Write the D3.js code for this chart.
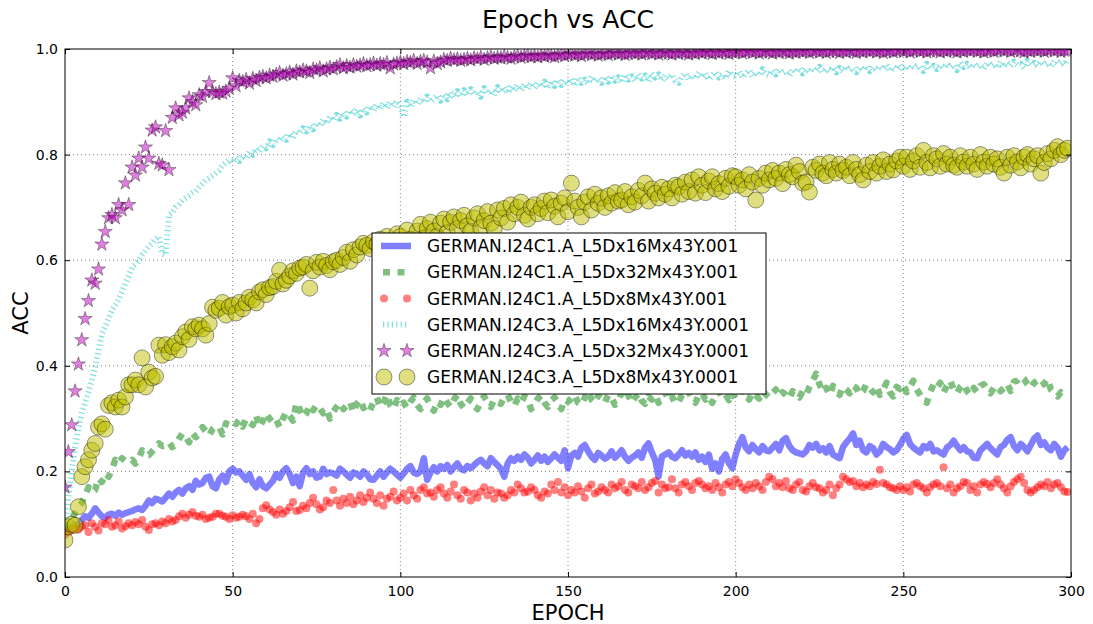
<!DOCTYPE html>
<html>
<head>
<meta charset="utf-8">
<script src="https://cdn.jsdelivr.net/npm/d3@7"></script>
<style>
  body { margin: 0; background: #fff; }
  text { font-family: "DejaVu Sans", sans-serif; fill: #000; }
</style>
</head>
<body>
<svg id="chart" width="1093" height="624"></svg>
<script>
// ---- data: accuracy per epoch (index = epoch) ----
const seriesNames = [
  "GERMAN.I24C1.A_L5Dx16Mx43Y.001",
  "GERMAN.I24C1.A_L5Dx32Mx43Y.001",
  "GERMAN.I24C1.A_L5Dx8Mx43Y.001",
  "GERMAN.I24C3.A_L5Dx16Mx43Y.0001",
  "GERMAN.I24C3.A_L5Dx32Mx43Y.0001",
  "GERMAN.I24C3.A_L5Dx8Mx43Y.0001"
];

const acc16_001 = [
  .090,.092,.095,.098,.100,.108,.115,.112,.120,.130,
  .122,.115,.112,.118,.120,.116,.122,.118,.121,.123,
  .125,.128,.130,.127,.135,.145,.140,.148,.146,.143,
  .150,.158,.152,.160,.165,.158,.168,.172,.165,.182,
  .175,.178,.188,.190,.172,.168,.185,.192,.180,.200,
  .205,.198,.200,.192,.184,.195,.178,.170,.185,.172,
  .168,.175,.182,.195,.188,.200,.206,.195,.178,.190,
  .172,.198,.206,.195,.200,.188,.190,.205,.195,.198,
  .196,.192,.205,.200,.194,.188,.198,.195,.190,.200,
  .195,.185,.184,.192,.200,.190,.198,.205,.200,.194,
  .188,.196,.205,.210,.198,.195,.200,.225,.184,.198,
  .208,.200,.210,.205,.212,.200,.208,.215,.205,.202,
  .210,.206,.212,.218,.222,.215,.210,.225,.218,.212,
  .205,.190,.215,.225,.220,.228,.222,.232,.226,.215,
  .222,.230,.220,.228,.218,.225,.232,.226,.220,.240,
  .206,.230,.235,.228,.245,.250,.238,.228,.222,.235,
  .230,.224,.228,.238,.226,.232,.240,.228,.220,.226,
  .230,.236,.226,.245,.253,.236,.222,.190,.228,.232,
  .236,.228,.225,.232,.240,.230,.235,.228,.236,.222,
  .228,.218,.232,.205,.215,.200,.224,.232,.215,.206,
  .232,.252,.265,.245,.238,.250,.242,.236,.248,.240,
  .238,.245,.252,.240,.258,.263,.248,.240,.236,.234,
  .232,.238,.250,.245,.252,.240,.244,.236,.248,.232,
  .228,.225,.246,.255,.262,.272,.250,.258,.240,.236,
  .248,.244,.232,.238,.252,.246,.242,.236,.240,.250,
  .262,.269,.252,.245,.240,.236,.248,.244,.252,.238,
  .240,.236,.232,.245,.250,.258,.248,.240,.246,.238,
  .236,.226,.225,.240,.246,.252,.244,.238,.232,.246,
  .250,.260,.265,.248,.240,.252,.246,.238,.250,.262,
  .268,.250,.255,.245,.240,.252,.245,.228,.240,.246
];

const acc32_001 = [
  .090,.100,.110,.122,.133,.140,.155,.170,.160,.165,
  .187,.180,.196,.190,.203,.222,.215,.225,.220,.218,
  .222,.215,.225,.240,.232,.231,.238,.245,.253,.248,
  .250,.255,.246,.250,.262,.272,.266,.255,.272,.265,
  .270,.284,.276,.268,.280,.285,.284,.270,.291,.288,
  .295,.290,.297,.285,.300,.293,.288,.306,.284,.296,
  .310,.300,.292,.298,.284,.300,.313,.305,.296,.330,
  .318,.303,.310,.326,.316,.326,.320,.310,.318,.300,
  .313,.322,.330,.318,.325,.332,.312,.328,.336,.320,
  .325,.316,.332,.340,.322,.330,.345,.326,.318,.335,
  .325,.330,.320,.332,.340,.326,.318,.330,.338,.322,
  .315,.332,.326,.340,.330,.322,.336,.345,.328,.320,
  .330,.338,.325,.318,.334,.342,.330,.322,.336,.330,
  .328,.340,.345,.332,.324,.338,.330,.342,.335,.318,
  .326,.338,.344,.330,.322,.335,.340,.330,.318,.336,
  .332,.338,.345,.330,.326,.340,.352,.336,.330,.344,
  .338,.330,.345,.340,.326,.332,.350,.338,.344,.330,
  .340,.348,.334,.328,.342,.336,.345,.330,.338,.350,
  .335,.342,.328,.332,.345,.340,.350,.338,.330,.345,
  .348,.336,.342,.330,.345,.352,.340,.346,.335,.350,
  .338,.342,.355,.345,.336,.350,.344,.338,.352,.346,
  .340,.348,.355,.342,.350,.345,.338,.352,.346,.340,
  .352,.345,.360,.372,.385,.365,.350,.358,.345,.362,
  .352,.345,.360,.355,.348,.362,.358,.346,.352,.365,
  .358,.350,.362,.345,.355,.368,.350,.342,.360,.356,
  .365,.350,.360,.372,.355,.345,.335,.330,.350,.365,
  .358,.368,.350,.362,.372,.355,.348,.360,.366,.352,
  .345,.358,.350,.362,.365,.355,.348,.358,.362,.352,
  .358,.366,.352,.370,.372,.380,.375,.365,.358,.368,
  .372,.362,.366,.375,.355,.348,.342,.350,.345,.341
];

const acc8_001 = [
  .080,.085,.089,.092,.090,.095,.098,.085,.102,.095,
  .088,.102,.100,.108,.095,.098,.105,.092,.096,.102,
  .098,.104,.100,.108,.095,.089,.100,.102,.098,.105,
  .102,.110,.105,.108,.115,.120,.112,.118,.123,.116,
  .114,.118,.110,.112,.114,.120,.120,.116,.114,.110,
  .117,.112,.114,.118,.115,.110,.120,.102,.110,.130,
  .136,.128,.123,.118,.128,.120,.125,.132,.142,.125,
  .127,.135,.130,.140,.150,.138,.128,.132,.145,.140,
  .165,.145,.135,.148,.140,.152,.138,.145,.155,.142,
  .150,.160,.148,.140,.155,.135,.148,.152,.162,.145,
  .150,.158,.145,.165,.155,.148,.165,.170,.158,.160,
  .152,.165,.170,.158,.150,.162,.175,.155,.148,.165,
  .160,.145,.158,.150,.162,.170,.155,.165,.148,.160,
  .158,.150,.155,.165,.160,.175,.168,.160,.162,.170,
  .165,.155,.150,.162,.158,.175,.165,.180,.160,.170,
  .155,.165,.160,.172,.162,.150,.168,.175,.158,.162,
  .170,.165,.160,.175,.168,.172,.180,.165,.160,.175,
  .172,.168,.180,.165,.170,.178,.182,.160,.175,.168,
  .170,.185,.168,.160,.175,.180,.172,.165,.178,.182,
  .175,.168,.172,.165,.178,.170,.160,.175,.180,.172,
  .185,.178,.170,.165,.175,.168,.178,.172,.165,.180,
  .190,.185,.172,.178,.170,.182,.168,.165,.175,.180,
  .165,.162,.172,.178,.170,.168,.160,.165,.175,.155,
  .168,.175,.190,.185,.180,.182,.172,.178,.170,.175,
  .172,.180,.176,.203,.178,.175,.170,.168,.165,.172,
  .165,.170,.162,.175,.178,.172,.168,.160,.170,.175,
  .178,.172,.208,.168,.175,.160,.168,.172,.180,.178,
  .165,.172,.160,.175,.180,.176,.170,.178,.185,.175,
  .168,.160,.172,.180,.185,.190,.178,.165,.160,.165,
  .170,.175,.172,.180,.168,.175,.178,.170,.162,.161
];

const acc16_0001 = [
  .095,.150,.200,.246,.280,.310,.330,.350,.373,.398,
  .430,.460,.475,.490,.506,.515,.525,.540,.557,.570,
  .587,.592,.600,.610,.618,.626,.632,.640,.645,.612,
  .610,.686,.690,.700,.706,.714,.718,.722,.727,.730,
  .738,.745,.752,.755,.760,.765,.770,.780,.785,.790,
  .785,.795,.788,.798,.792,.805,.800,.812,.806,.816,
  .812,.825,.818,.830,.826,.835,.828,.840,.832,.845,
  .840,.850,.844,.856,.848,.860,.854,.866,.858,.872,
  .864,.875,.868,.880,.872,.884,.876,.886,.874,.888,
  .880,.892,.884,.895,.886,.898,.888,.900,.890,.902,
  .894,.871,.900,.890,.904,.895,.906,.898,.910,.900,
  .906,.912,.902,.915,.905,.918,.908,.920,.910,.922,
  .912,.924,.914,.920,.910,.926,.916,.922,.912,.928,
  .918,.928,.916,.930,.920,.932,.922,.934,.924,.936,
  .926,.936,.928,.938,.925,.940,.930,.942,.932,.940,
  .934,.944,.930,.946,.936,.942,.934,.948,.938,.944,
  .936,.948,.938,.950,.940,.946,.936,.952,.942,.948,
  .940,.952,.944,.950,.938,.954,.946,.952,.940,.950,
  .944,.952,.940,.936,.948,.954,.942,.950,.944,.956,
  .946,.954,.942,.950,.956,.946,.952,.944,.958,.950,
  .948,.958,.946,.954,.960,.948,.956,.950,.962,.952,
  .950,.960,.952,.962,.954,.958,.950,.962,.956,.964,
  .954,.962,.956,.964,.958,.966,.956,.962,.958,.966,
  .956,.964,.958,.968,.960,.964,.956,.966,.960,.968,
  .958,.966,.960,.968,.962,.970,.958,.966,.962,.970,
  .960,.968,.962,.970,.964,.968,.958,.972,.964,.968,
  .962,.970,.964,.972,.966,.970,.960,.974,.966,.972,
  .964,.972,.966,.970,.962,.974,.968,.972,.964,.976,
  .966,.974,.968,.976,.970,.972,.964,.978,.970,.974,
  .968,.976,.970,.974,.966,.978,.972,.976,.970,.982
];

const acc32_0001 = [
  .170,.237,.288,.352,.403,.449,.489,.523,.562,.556,
  .583,.630,.654,.680,.686,.680,.705,.695,.746,.705,
  .776,.761,.793,.776,.814,.793,.846,.852,.783,.780,
  .845,.771,.870,.888,.875,.880,.888,.907,.900,.894,
  .913,.910,.919,.936,.919,.915,.918,.916,.920,.925,
  .945,.930,.940,.938,.942,.935,.944,.940,.946,.948,
  .945,.950,.948,.952,.955,.950,.953,.956,.952,.958,
  .956,.960,.958,.955,.962,.960,.964,.958,.962,.965,
  .962,.966,.970,.964,.968,.965,.970,.967,.969,.972,
  .968,.970,.973,.969,.972,.970,.974,.964,.971,.973,
  .975,.972,.976,.974,.978,.972,.976,.978,.975,.964,
  .977,.972,.975,.980,.978,.982,.979,.981,.978,.980,
  .982,.979,.983,.981,.984,.980,.983,.985,.982,.984,
  .983,.986,.984,.982,.985,.987,.984,.986,.988,.985,
  .987,.985,.988,.986,.989,.987,.985,.988,.990,.987,
  .989,.991,.988,.990,.987,.990,.992,.989,.991,.988,
  .990,.992,.989,.991,.993,.990,.992,.989,.991,.993,
  .991,.993,.990,.992,.994,.991,.993,.990,.992,.994,
  .992,.990,.993,.991,.994,.992,.990,.993,.991,.994,
  .992,.995,.993,.991,.994,.992,.995,.993,.991,.994,
  .993,.995,.992,.994,.996,.993,.995,.992,.994,.996,
  .994,.992,.995,.993,.996,.994,.992,.995,.993,.996,
  .994,.996,.993,.995,.997,.994,.996,.993,.995,.997,
  .995,.993,.996,.994,.997,.995,.993,.996,.994,.997,
  .995,.997,.994,.996,.993,.995,.997,.994,.996,.998,
  .995,.997,.994,.996,.998,.995,.997,.994,.996,.998,
  .996,.994,.997,.995,.998,.996,.994,.997,.995,.998,
  .996,.998,.995,.997,.994,.996,.998,.995,.997,.999,
  .996,.998,.995,.997,.999,.996,.994,.997,.995,.998,
  .996,.998,.995,.997,.999,.996,.998,.995,.997,.996
];

const acc8_0001 = [
  .070,.095,.100,.098,.133,.190,.209,.222,.240,.253,
  .284,.290,.280,.325,.330,.322,.335,.322,.341,.364,
  .364,.373,.364,.415,.360,.388,.377,.380,.439,.420,
  .440,.425,.436,.443,.430,.455,.464,.450,.474,.470,
  .477,.470,.458,.480,.511,.505,.509,.520,.496,.512,
  .515,.500,.520,.508,.519,.530,.525,.519,.540,.544,
  .535,.548,.550,.560,.581,.555,.562,.570,.580,.575,
  .585,.587,.592,.547,.580,.596,.587,.598,.590,.582,
  .597,.600,.592,.605,.615,.598,.620,.610,.625,.632,
  .628,.622,.635,.630,.640,.628,.645,.636,.625,.650,
  .645,.630,.657,.640,.628,.655,.668,.642,.660,.672,
  .655,.645,.670,.678,.652,.672,.682,.660,.675,.685,
  .665,.655,.680,.688,.662,.675,.692,.670,.660,.695,
  .680,.698,.672,.705,.688,.700,.710,.685,.678,.700,
  .705,.688,.698,.712,.690,.714,.702,.682,.708,.718,
  .692,.746,.712,.700,.682,.710,.720,.695,.725,.708,
  .718,.700,.722,.708,.728,.712,.714,.730,.705,.720,
  .710,.732,.722,.746,.712,.735,.727,.718,.738,.725,
  .735,.718,.742,.739,.725,.748,.730,.752,.727,.758,
  .742,.728,.750,.758,.735,.745,.730,.755,.740,.760,
  .758,.742,.752,.735,.762,.748,.714,.755,.742,.765,
  .752,.770,.755,.765,.745,.772,.762,.758,.780,.768,
  .746,.748,.729,.776,.770,.782,.765,.760,.785,.772,
  .765,.782,.770,.776,.760,.785,.772,.762,.752,.780,
  .768,.785,.765,.778,.790,.768,.782,.771,.788,.795,
  .778,.795,.772,.788,.798,.776,.808,.785,.775,.798,
  .792,.778,.802,.782,.795,.780,.776,.798,.786,.778,
  .795,.782,.772,.800,.786,.778,.795,.782,.792,.776,
  .765,.795,.780,.798,.786,.775,.795,.800,.782,.792,
  .798,.765,.785,.802,.792,.808,.815,.800,.808,.812
];

const xTicks = [0, 50, 100, 150, 200, 250, 300];
const yTicks = [0.0, 0.2, 0.4, 0.6, 0.8, 1.0];

// ---- layout ----
const svg = d3.select("#chart");
const plot = { left: 65, right: 1071, top: 49, bottom: 577 };

const x = d3.scaleLinear().domain([0, 300]).range([plot.left, plot.right]);
const y = d3.scaleLinear().domain([0, 1]).range([plot.bottom, plot.top]);

svg.append("defs").append("clipPath").attr("id", "plotClip")
  .append("rect")
  .attr("x", plot.left).attr("y", plot.top)
  .attr("width", plot.right - plot.left).attr("height", plot.bottom - plot.top);

// ---- dotted grid ----
const grid = svg.append("g").attr("stroke", "#666").attr("stroke-width", 0.8)
  .attr("stroke-dasharray", "1,3");
grid.selectAll(".gx").data(xTicks.slice(1, -1)).join("line")
  .attr("x1", d => x(d)).attr("x2", d => x(d))
  .attr("y1", plot.top).attr("y2", plot.bottom);
grid.selectAll(".gy").data(yTicks.slice(1, -1)).join("line")
  .attr("x1", plot.left).attr("x2", plot.right)
  .attr("y1", d => y(d)).attr("y2", d => y(d));

// ---- series ----
const data = svg.append("g").attr("clip-path", "url(#plotClip)");
const line = d3.line().x((d, i) => x(i)).y(d => y(d));

const lineSeries = [
  { values: acc16_001, color: "#0000ff", dash: null, width: 6.5 },
  { values: acc32_001, color: "#008000", dash: "7,7.5", width: 6.5 },
];
const dottedSeries = { values: acc16_0001, color: "#00bfbf", dash: "1.2,3.2", width: 6 };

function drawLine(s) {
  data.append("path").datum(s.values)
    .attr("d", line)
    .attr("fill", "none")
    .attr("stroke", s.color)
    .attr("stroke-opacity", 0.5)
    .attr("stroke-width", s.width)
    .attr("stroke-linejoin", "round")
    .attr("stroke-dasharray", s.dash);
}
lineSeries.forEach(drawLine);

// red point markers
const redR = 4;
data.append("g").selectAll("circle").data(acc8_001).join("circle")
  .attr("cx", (d, i) => x(i)).attr("cy", d => y(d)).attr("r", redR)
  .attr("fill", "#ff0000").attr("fill-opacity", 0.5);

drawLine(dottedSeries);

// magenta stars
const star = d3.symbol().type(d3.symbolStar).size(62);
data.append("g").selectAll("path").data(acc32_0001).join("path")
  .attr("transform", (d, i) => `translate(${x(i)},${y(d)})`)
  .attr("d", star)
  .attr("fill", "#bf00bf").attr("fill-opacity", 0.5)
  .attr("stroke", "#000").attr("stroke-opacity", 0.5).attr("stroke-width", 0.7);

// olive circles
data.append("g").selectAll("circle").data(acc8_0001).join("circle")
  .attr("cx", (d, i) => x(i)).attr("cy", d => y(d)).attr("r", 8)
  .attr("fill", "#bfbf00").attr("fill-opacity", 0.5)
  .attr("stroke", "#000").attr("stroke-opacity", 0.5).attr("stroke-width", 0.8);

// ---- axes (inward ticks on all sides) ----
const fmt = d3.format(".1f");
const bottomAxis = svg.append("g").attr("transform", `translate(0,${plot.bottom})`)
  .call(d3.axisBottom(x).tickValues(xTicks).tickSizeInner(-5).tickSizeOuter(0).tickPadding(9));
const topAxis = svg.append("g").attr("transform", `translate(0,${plot.top})`)
  .call(d3.axisTop(x).tickValues(xTicks).tickSizeInner(-5).tickSizeOuter(0).tickFormat(""));
const leftAxis = svg.append("g").attr("transform", `translate(${plot.left},0)`)
  .call(d3.axisLeft(y).tickValues(yTicks).tickSizeInner(-5).tickSizeOuter(0).tickPadding(7).tickFormat(fmt));
const rightAxis = svg.append("g").attr("transform", `translate(${plot.right},0)`)
  .call(d3.axisRight(y).tickValues(yTicks).tickSizeInner(-5).tickSizeOuter(0).tickFormat(""));
[bottomAxis, topAxis, leftAxis, rightAxis].forEach(g => {
  g.select(".domain").remove();
  g.selectAll(".tick line").attr("stroke", "#000");
  g.selectAll("text").attr("font-size", 14).attr("font-family", "DejaVu Sans").attr("fill", "#000");
});

svg.append("rect")
  .attr("x", plot.left).attr("y", plot.top)
  .attr("width", plot.right - plot.left).attr("height", plot.bottom - plot.top)
  .attr("fill", "none").attr("stroke", "#000").attr("stroke-width", 1);

// ---- titles ----
svg.append("text").attr("x", (plot.left + plot.right) / 2).attr("y", 28)
  .attr("text-anchor", "middle").attr("font-size", 25).text("Epoch vs ACC");
svg.append("text").attr("x", (plot.left + plot.right) / 2).attr("y", 620)
  .attr("text-anchor", "middle").attr("font-size", 21).text("EPOCH");
svg.append("text").attr("transform", `translate(28,${(plot.top + plot.bottom) / 2}) rotate(-90)`)
  .attr("text-anchor", "middle").attr("font-size", 21).text("ACC");

// ---- legend ----
const legend = svg.append("g");
legend.append("rect").attr("x", 372).attr("y", 233).attr("width", 394).attr("height", 161)
  .attr("fill", "#fff").attr("stroke", "#000").attr("stroke-width", 1);
const rowY = i => 246 + i * 26.2;
const hx0 = 381, hx1 = 411, mx = [384, 407];

const handles = [
  g => g.append("line").attr("x1", hx0).attr("x2", hx1)
        .attr("stroke", "#0000ff").attr("stroke-opacity", .5).attr("stroke-width", 6.5),
  g => g.append("line").attr("x1", hx0).attr("x2", hx1)
        .attr("stroke", "#008000").attr("stroke-opacity", .5).attr("stroke-width", 6.5)
        .attr("stroke-dasharray", "7,7.5").attr("stroke-dashoffset", -2),
  g => g.selectAll("circle").data(mx).join("circle").attr("cx", d => d).attr("r", redR)
        .attr("fill", "#ff0000").attr("fill-opacity", .5),
  g => g.append("line").attr("x1", hx0 + 2).attr("x2", hx1 - 3)
        .attr("stroke", "#00bfbf").attr("stroke-opacity", .5).attr("stroke-width", 6)
        .attr("stroke-dasharray", "1.2,3.2"),
  g => g.selectAll("path").data(mx).join("path").attr("transform", d => `translate(${d},0)`)
        .attr("d", star).attr("fill", "#bf00bf").attr("fill-opacity", .5)
        .attr("stroke", "#000").attr("stroke-opacity", .5).attr("stroke-width", .7),
  g => g.selectAll("circle").data(mx).join("circle").attr("cx", d => d).attr("r", 8)
        .attr("fill", "#bfbf00").attr("fill-opacity", .5)
        .attr("stroke", "#000").attr("stroke-opacity", .5).attr("stroke-width", .8)
];

seriesNames.forEach((name, i) => {
  const row = legend.append("g").attr("transform", `translate(0,${rowY(i)})`);
  handles[i](row);
  row.append("text").attr("x", 427).attr("dy", "0.36em").attr("font-size", 17).text(name);
});
</script>
</body>
</html>
